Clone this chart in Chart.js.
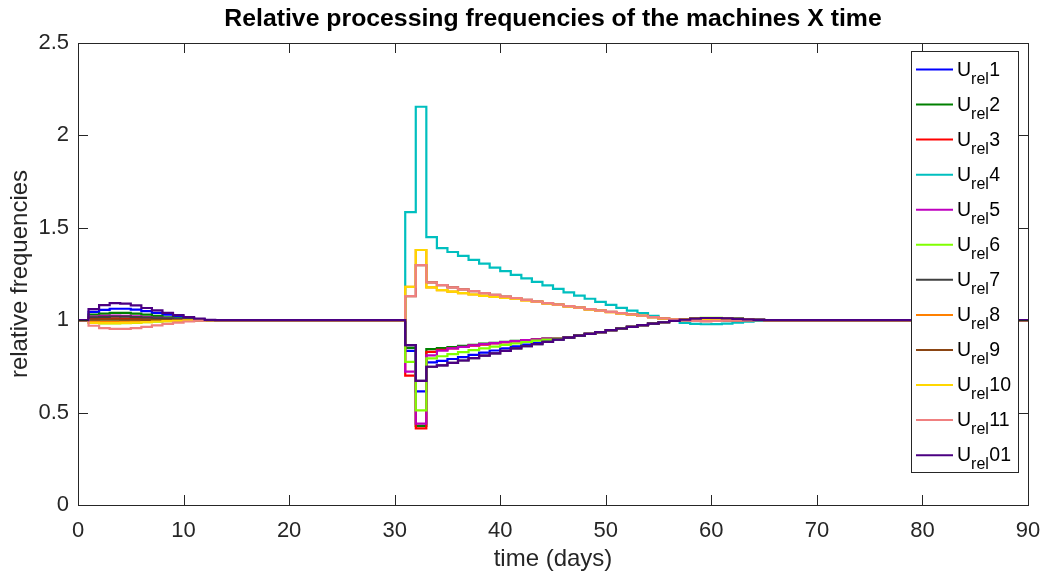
<!DOCTYPE html>
<html>
<head>
<meta charset="utf-8">
<title>Relative processing frequencies</title>
<script src="https://cdn.jsdelivr.net/npm/chart.js@4.4.1/dist/chart.umd.min.js"></script>
<style>
  html, body { margin: 0; padding: 0; background: #ffffff; }
  #freqChart { display: block; }
</style>
</head>
<body>
<canvas id="freqChart" width="1045" height="576"></canvas>
<script>
// Days covered by each stretch of the stairs (values hold until the next day)
const earlyDays = [0, 1, 2, 3, 4, 5, 6, 7, 8, 9, 10, 11, 12, 13];
const lateDays = [31, 32, 33, 34, 35, 36, 37, 38, 39, 40, 41, 42, 43, 44, 45, 46, 47, 48,
                  49, 50, 51, 52, 53, 54, 55, 56, 57, 58, 59, 60, 61, 62, 63, 64, 65];
const lastDay = 90;

const seriesNames = ['1', '2', '3', '4', '5', '6', '7', '8', '9', '10', '11', '01'];
const seriesColors = ['#0000ff', '#008000', '#ff0000', '#00bfbf', '#bf00bf', '#80ff00',
                      '#404040', '#ff8000', '#8b4513', '#ffd700', '#f08080', '#4b0082'];

// valores iniciais (dias 0..13)
const early1  = [1, 1.045, 1.056, 1.062, 1.062, 1.057, 1.049, 1.040, 1.030, 1.020, 1.012, 1.005, 1.001, 1];
const early2  = [1, 1.030, 1.036, 1.040, 1.040, 1.036, 1.030, 1.023, 1.016, 1.010, 1.005, 1.002, 1, 1];
const early3  = [1, 1.008, 1.010, 1.010, 1.009, 1.007, 1.005, 1.003, 1.002, 1.001, 1, 1, 1, 1];
const early4  = [1, 1, 1, 1, 1, 1, 1, 1, 1, 1, 1, 1, 1, 1];
const early5  = [1, 1.020, 1.024, 1.025, 1.024, 1.021, 1.017, 1.013, 1.009, 1.005, 1.002, 1, 1, 1];
const early6  = [1, 0.985, 0.983, 0.983, 0.984, 0.986, 0.989, 0.992, 0.995, 0.997, 0.999, 1, 1, 1];
const early7  = [1, 1.015, 1.018, 1.020, 1.019, 1.017, 1.014, 1.010, 1.007, 1.004, 1.002, 1, 1, 1];
const early8  = [1, 0.993, 0.992, 0.992, 0.993, 0.994, 0.995, 0.997, 0.998, 0.999, 1, 1, 1, 1];
const early9  = [1, 1.003, 1.004, 1.004, 1.003, 1.003, 1.002, 1.001, 1, 1, 1, 1, 1, 1];
const early10 = [1, 0.986, 0.984, 0.984, 0.985, 0.987, 0.990, 0.993, 0.995, 0.997, 0.999, 1, 1, 1];
const early11 = [1, 0.970, 0.957, 0.953, 0.953, 0.957, 0.964, 0.972, 0.980, 0.987, 0.993, 0.997, 1, 1];
const early01 = [1, 1.060, 1.082, 1.092, 1.090, 1.080, 1.066, 1.053, 1.040, 1.028, 1.017, 1.008, 1.002, 1];

// valores depois da perturbação (dias 31..65)
const late1  = [0.834, 0.615, 0.772, 0.780, 0.790, 0.800, 0.812, 0.824, 0.836, 0.848, 0.858, 0.868, 0.877, 0.886, 0.896,
                0.906, 0.916, 0.926, 0.936, 0.946, 0.955, 0.964, 0.973, 0.981, 0.989, 0.996, 1.003, 1.009, 1.012, 1.012,
                1.010, 1.007, 1.004, 1.002, 1];
const late2  = [0.850, 0.428, 0.843, 0.849, 0.855, 0.861, 0.867, 0.873, 0.878, 0.883, 0.888, 0.892, 0.896, 0.900, 0.903,
                0.906, 0.916, 0.926, 0.936, 0.946, 0.955, 0.964, 0.973, 0.981, 0.989, 0.996, 1.003, 1.009, 1.012, 1.012,
                1.010, 1.007, 1.004, 1.002, 1];
const late3  = [0.700, 0.415, 0.829, 0.840, 0.848, 0.855, 0.862, 0.868, 0.874, 0.880, 0.885, 0.890, 0.895, 0.899, 0.903,
                0.906, 0.916, 0.926, 0.936, 0.946, 0.955, 0.964, 0.973, 0.981, 0.989, 0.996, 1.003, 1.009, 1.012, 1.012,
                1.010, 1.007, 1.004, 1.002, 1];
const late4  = [1.585, 2.155, 1.450, 1.390, 1.369, 1.348, 1.326, 1.306, 1.285, 1.266, 1.245, 1.226, 1.207, 1.188, 1.169,
                1.151, 1.133, 1.116, 1.099, 1.083, 1.067, 1.052, 1.038, 1.024, 1.010, 0.997, 0.986, 0.980, 0.978, 0.979,
                0.982, 0.987, 0.992, 0.996, 1];
const late5  = [0.722, 0.440, 0.810, 0.835, 0.847, 0.856, 0.864, 0.870, 0.876, 0.882, 0.887, 0.892, 0.896, 0.900, 0.903,
                0.906, 0.916, 0.926, 0.936, 0.946, 0.955, 0.964, 0.973, 0.981, 0.989, 0.996, 1.003, 1.009, 1.012, 1.012,
                1.010, 1.007, 1.004, 1.002, 1];
const late6  = [0.775, 0.512, 0.793, 0.805, 0.816, 0.827, 0.838, 0.848, 0.857, 0.866, 0.874, 0.882, 0.889, 0.895, 0.900,
                0.905, 0.916, 0.926, 0.936, 0.946, 0.955, 0.964, 0.973, 0.981, 0.989, 0.997, 1.005, 1.010, 1.013, 1.013,
                1.011, 1.008, 1.004, 1.002, 1];
const late7  = [0.865, 0.672, 0.748, 0.756, 0.769, 0.782, 0.795, 0.808, 0.821, 0.834, 0.847, 0.859, 0.871, 0.883, 0.895,
                0.906, 0.916, 0.926, 0.936, 0.946, 0.955, 0.964, 0.973, 0.981, 0.989, 0.996, 1.003, 1.009, 1.012, 1.012,
                1.010, 1.007, 1.004, 1.002, 1];
const late8  = [1.180, 1.380, 1.178, 1.163, 1.155, 1.147, 1.139, 1.132, 1.126, 1.120, 1.115, 1.107, 1.099, 1.091, 1.083,
                1.075, 1.067, 1.059, 1.051, 1.044, 1.037, 1.030, 1.023, 1.016, 1.009, 1.004, 1.004, 1.007, 1.009, 1.009,
                1.007, 1.005, 1.003, 1.001, 1];
const late9  = [1.130, 1.298, 1.205, 1.190, 1.178, 1.167, 1.157, 1.147, 1.137, 1.128, 1.119, 1.110, 1.101, 1.092, 1.084,
                1.076, 1.068, 1.060, 1.052, 1.045, 1.038, 1.031, 1.024, 1.017, 1.010, 1.004, 0.999, 0.996, 0.995, 0.996,
                0.997, 0.998, 0.999, 1, 1];
const late10 = [1.180, 1.380, 1.178, 1.163, 1.155, 1.147, 1.139, 1.132, 1.126, 1.120, 1.115, 1.107, 1.099, 1.091, 1.083,
                1.075, 1.067, 1.059, 1.051, 1.044, 1.037, 1.030, 1.023, 1.016, 1.009, 1.004, 1.004, 1.007, 1.009, 1.009,
                1.007, 1.005, 1.003, 1.001, 1];
const late11 = [1.130, 1.298, 1.205, 1.190, 1.178, 1.167, 1.157, 1.147, 1.137, 1.128, 1.119, 1.110, 1.101, 1.092, 1.084,
                1.076, 1.068, 1.060, 1.052, 1.045, 1.038, 1.031, 1.024, 1.017, 1.010, 1.004, 0.999, 0.996, 0.995, 0.996,
                0.997, 0.998, 0.999, 1, 1];
const late01 = [0.865, 0.672, 0.748, 0.756, 0.769, 0.782, 0.795, 0.808, 0.821, 0.834, 0.847, 0.859, 0.871, 0.883, 0.895,
                0.906, 0.916, 0.926, 0.936, 0.946, 0.955, 0.964, 0.973, 0.981, 0.989, 0.996, 1.003, 1.009, 1.012, 1.012,
                1.010, 1.007, 1.004, 1.002, 1];

const earlyValues = [early1, early2, early3, early4, early5, early6, early7, early8, early9, early10, early11, early01];
const lateValues = [late1, late2, late3, late4, late5, late6, late7, late8, late9, late10, late11, late01];

const xTicks = [0, 10, 20, 30, 40, 50, 60, 70, 80, 90];
const yTicks = [0, 0.5, 1, 1.5, 2, 2.5];

const FONT = "'Liberation Sans', Arial, Helvetica, sans-serif";
const AXIS_COLOR = '#262626';

function buildPoints(i) {
    const pts = [];
    earlyDays.forEach((d, k) => pts.push({ x: d, y: earlyValues[i][k] }));
    lateDays.forEach((d, k) => pts.push({ x: d, y: lateValues[i][k] }));
    pts.push({ x: lastDay, y: 1 });
    return pts;
}

// a ultima serie fica por cima, como no MATLAB
const datasets = seriesNames.map((name, i) => ({
    label: 'U_rel' + name,
    data: buildPoints(i),
    borderColor: seriesColors[i],
    backgroundColor: seriesColors[i],
    borderWidth: 2.2,
    pointRadius: 0,
    stepped: 'before',
    fill: false,
    order: seriesNames.length - i
}));

// moldura estilo MATLAB: caixa, ticks para dentro, titulos e legenda com subscrito
const matlabFrame = {
    id: 'matlabFrame',
    afterDatasetsDraw(chart) {
        const ctx = chart.ctx;
        const a = chart.chartArea;
        const xs = chart.scales.x, ys = chart.scales.y;
        const tl = 10;
        ctx.save();
        ctx.strokeStyle = AXIS_COLOR;
        ctx.lineWidth = 1;
        ctx.beginPath();
        xTicks.forEach(v => {
            const px = Math.round(xs.getPixelForValue(v)) + 0.5;
            ctx.moveTo(px, a.bottom); ctx.lineTo(px, a.bottom - tl);
            ctx.moveTo(px, a.top); ctx.lineTo(px, a.top + tl);
        });
        yTicks.forEach(v => {
            const py = Math.round(ys.getPixelForValue(v)) + 0.5;
            ctx.moveTo(a.left, py); ctx.lineTo(a.left + tl, py);
            ctx.moveTo(a.right, py); ctx.lineTo(a.right - tl, py);
        });
        ctx.stroke();
        ctx.strokeRect(Math.round(a.left) + 0.5, Math.round(a.top) + 0.5,
                       Math.round(a.right - a.left), Math.round(a.bottom - a.top));
        ctx.restore();
    },
    afterDraw(chart) {
        const ctx = chart.ctx;
        const a = chart.chartArea;
        ctx.save();
        ctx.fillStyle = '#000000';
        ctx.textAlign = 'center';
        ctx.textBaseline = 'alphabetic';
        ctx.font = 'bold 24.8px ' + FONT;
        ctx.fillText('Relative processing frequencies of the machines X time', (a.left + a.right) / 2, 26);

        ctx.fillStyle = AXIS_COLOR;
        ctx.font = '24px ' + FONT;
        ctx.fillText('time (days)', (a.left + a.right) / 2, 566);
        ctx.save();
        ctx.translate(27, (a.top + a.bottom) / 2);
        ctx.rotate(-Math.PI / 2);
        ctx.fillText('relative frequencies', 0, 0);
        ctx.restore();

        // legenda
        const box = { x: 911.5, y: 51.5, w: 107, h: 421 };
        ctx.fillStyle = '#ffffff';
        ctx.fillRect(box.x, box.y, box.w, box.h);
        ctx.strokeStyle = AXIS_COLOR;
        ctx.lineWidth = 1;
        ctx.strokeRect(box.x, box.y, box.w, box.h);
        ctx.textAlign = 'left';
        chart.data.datasets.forEach((ds, i) => {
            const y = 69.5 + i * 35.06;
            ctx.strokeStyle = ds.borderColor;
            ctx.lineWidth = 2;
            ctx.beginPath();
            ctx.moveTo(916, y);
            ctx.lineTo(953, y);
            ctx.stroke();
            ctx.fillStyle = '#000000';
            ctx.font = '19.5px ' + FONT;
            let x = 957;
            ctx.fillText('U', x, y + 6);
            x += ctx.measureText('U').width;
            ctx.font = '16px ' + FONT;
            ctx.fillText('rel', x, y + 14);
            x += ctx.measureText('rel').width + 0.5;
            ctx.font = '19.5px ' + FONT;
            ctx.fillText(seriesNames[i], x, y + 6);
        });
        ctx.restore();
    }
};

document.addEventListener('DOMContentLoaded', function () {
    const ctx = document.getElementById('freqChart').getContext('2d');
    new Chart(ctx, {
        type: 'line',
        data: { datasets: datasets },
        options: {
            responsive: false,
            animation: false,
            layout: { padding: { top: 43, right: 17, bottom: 0, left: 0 } },
            plugins: {
                legend: { display: false },
                title: { display: false },
                tooltip: { enabled: false }
            },
            scales: {
                x: {
                    type: 'linear',
                    min: 0,
                    max: 90,
                    afterFit: function (scale) {
                        scale.height = 71;
                        scale.paddingLeft = 0;
                        scale.paddingRight = 0;
                    },
                    afterBuildTicks: function (scale) { scale.ticks = xTicks.map(v => ({ value: v })); },
                    grid: { display: false, drawTicks: false },
                    border: { display: false },
                    ticks: {
                        color: AXIS_COLOR, font: { family: FONT, size: 22 }, padding: 13, maxRotation: 0,
                        callback: function (value) { return String(value); }
                    }
                },
                y: {
                    type: 'linear',
                    min: 0,
                    max: 2.5,
                    afterFit: function (scale) {
                        scale.width = 78;
                        scale.paddingTop = 0;
                        scale.paddingBottom = 0;
                    },
                    afterBuildTicks: function (scale) { scale.ticks = yTicks.map(v => ({ value: v })); },
                    grid: { display: false, drawTicks: false },
                    border: { display: false },
                    ticks: {
                        color: AXIS_COLOR, font: { family: FONT, size: 22 }, padding: 9,
                        callback: function (value) { return String(value); }
                    }
                }
            }
        },
        plugins: [matlabFrame]
    });
});
</script>
</body>
</html>
